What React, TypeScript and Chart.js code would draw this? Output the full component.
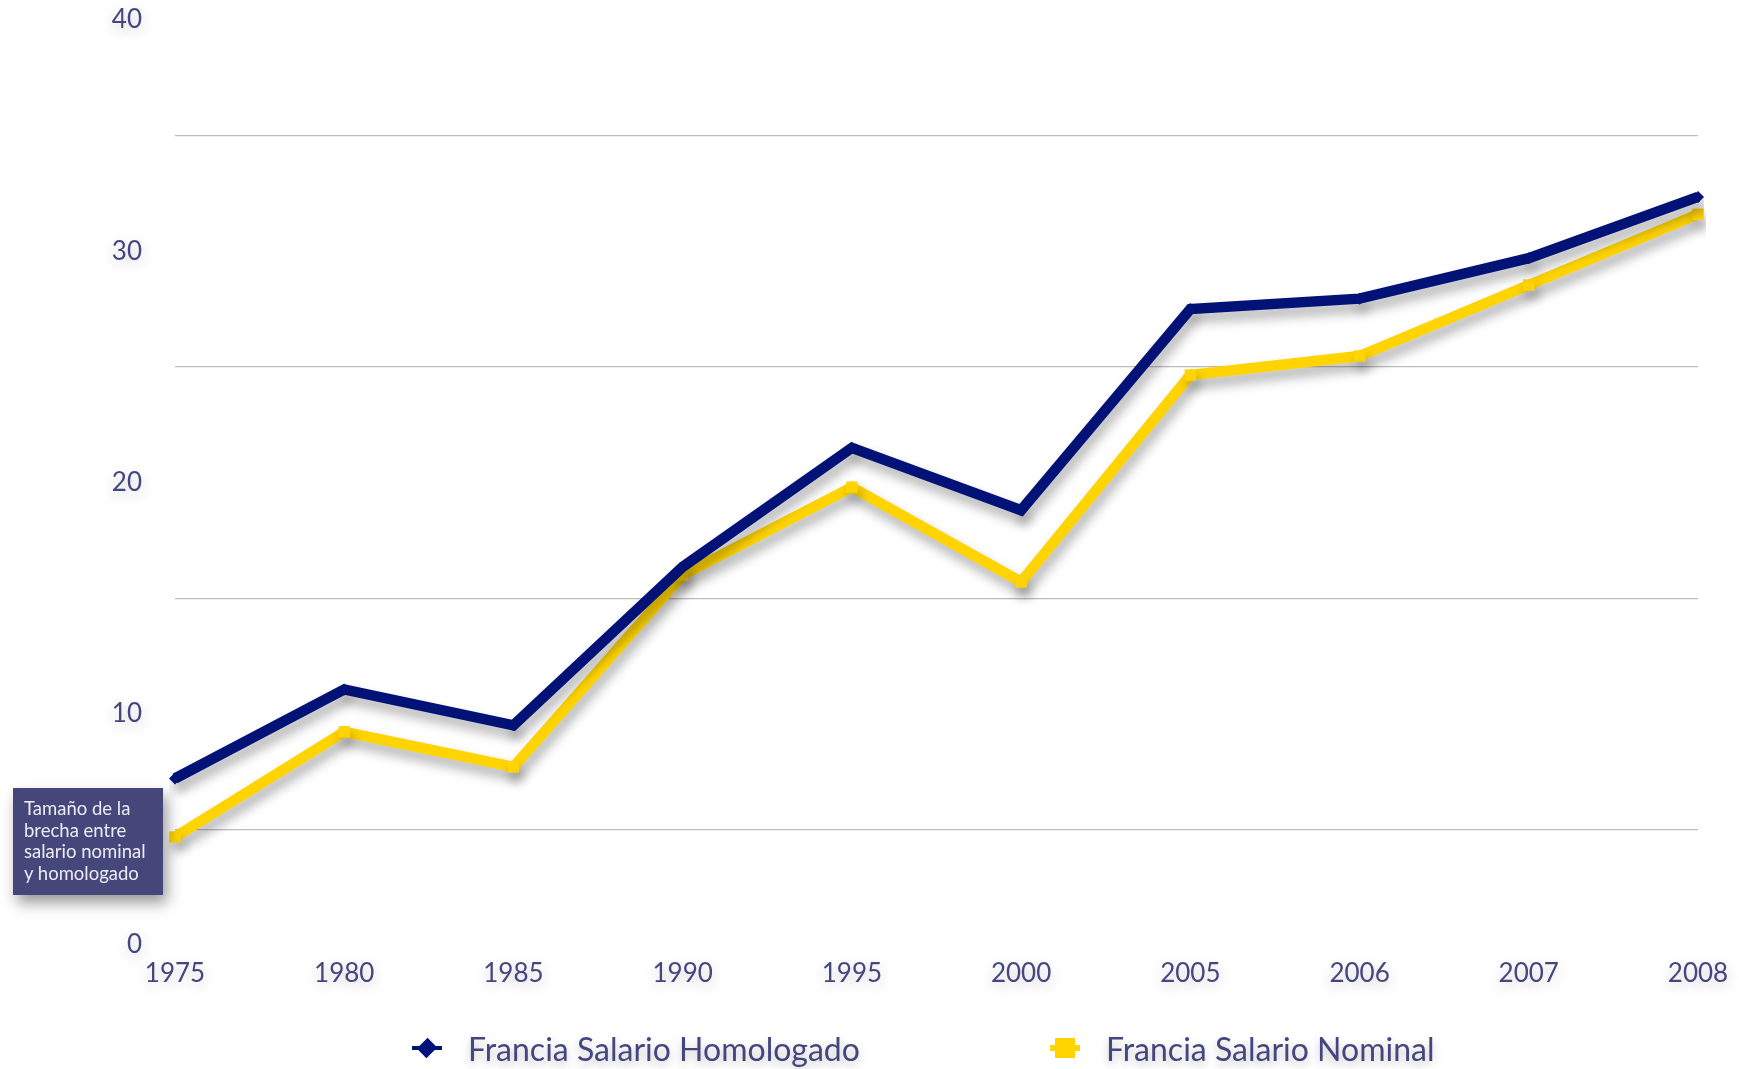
import React, { useEffect, useRef } from "react";
import { Chart, registerables } from "chart.js";

Chart.register(...registerables);

const years = ["1975", "1980", "1985", "1990", "1995", "2000", "2005", "2006", "2007", "2008"];
const homologado = [7.2, 11.05, 9.5, 16.35, 21.5, 18.8, 27.5, 27.95, 29.7, 32.35];
const nominal = [4.67, 9.22, 7.7, 16.0, 19.8, 15.7, 24.65, 25.47, 28.54, 31.6];
const seriesNames = ["Francia Salario Homologado", "Francia Salario Nominal"];
const annotationText = ["Tamaño de la", "brecha entre", "salario nominal", "y homologado"];

const BLUE = "#021277";
const YELLOW = "#FFD400";
const LABEL = "#43467f";
const FONT = "Lato, 'Open Sans', sans-serif";

const shadowPlugin = {
  id: "shadows",
  beforeDatasetsDraw(chart: any) {
    const ctx = chart.ctx;
    ctx.save();
    ctx.shadowColor = "rgba(0,0,0,0.32)";
    ctx.shadowBlur = 12;
    ctx.shadowOffsetX = 3;
    ctx.shadowOffsetY = 8;
  },
  afterDatasetsDraw(chart: any) {
    const ctx = chart.ctx;
    ctx.restore();
    ctx.save();
    ctx.shadowColor = "rgba(0,0,0,0.24)";
    ctx.shadowBlur = 14;
    ctx.shadowOffsetX = 0;
    ctx.shadowOffsetY = 4;
  },
  afterDraw(chart: any) {
    chart.ctx.restore();
  },
};

export default function App() {
  const ref = useRef<HTMLCanvasElement | null>(null);

  useEffect(() => {
    if (!ref.current) return;
    const chart = new Chart(ref.current, {
      type: "line",
      data: {
        labels: years,
        datasets: [
          {
            label: seriesNames[0],
            data: homologado,
            borderColor: BLUE,
            backgroundColor: BLUE,
            borderWidth: 10.5,
            pointStyle: "rectRot",
            pointRadius: 6,
            pointBorderWidth: 0,
            tension: 0,
          },
          {
            label: seriesNames[1],
            data: nominal,
            borderColor: YELLOW,
            backgroundColor: YELLOW,
            borderWidth: 10.5,
            pointStyle: "rect",
            pointRadius: 8,
            pointBorderWidth: 0,
            tension: 0,
          },
        ],
      },
      options: {
        animation: false,
        responsive: false,
        maintainAspectRatio: false,
        devicePixelRatio: 1,
        layout: { padding: { top: 20, right: 41, left: 0, bottom: 0 } },
        plugins: {
          legend: { display: false },
          tooltip: { enabled: false },
        },
        scales: {
          x: {
            type: "category",
            offset: false,
            grid: { display: false },
            border: { display: false },
            ticks: {
              color: LABEL,
              font: { family: FONT, size: 26 },
              padding: 5,
              maxRotation: 0,
              autoSkip: false,
              z: 1,
            },
            afterFit(scale: any) {
              scale.height = 124;
            },
          },
          y: {
            min: 0,
            max: 40,
            grid: {
              color: (c: any) => (c.tick && c.tick.value % 10 === 5 ? "#bdbdbd" : "rgba(0,0,0,0)"),
              lineWidth: 1.2,
              drawTicks: false,
            },
            border: { display: false },
            ticks: {
              stepSize: 5,
              color: LABEL,
              font: { family: FONT, size: 26 },
              padding: 33,
              callback: (v: any) => (Number(v) % 10 === 0 ? String(v) : ""),
              z: 1,
            },
            afterFit(scale: any) {
              scale.width = 175;
              scale.paddingTop = 0;
              scale.paddingBottom = 0;
            },
          },
        },
      },
      plugins: [shadowPlugin],
    } as any);
    return () => chart.destroy();
  }, []);

  const legendText: React.CSSProperties = {
    fontFamily: FONT,
    fontSize: 32,
    color: LABEL,
    textShadow: "0 4px 10px rgba(0,0,0,0.25)",
    whiteSpace: "nowrap",
  };

  return (
    <div style={{ position: "fixed", left: 0, top: 0, width: 1739, height: 1069, background: "#fff" }}>
      <canvas ref={ref} width={1739} height={1069} style={{ position: "absolute", left: 0, top: 0, width: 1739, height: 1069 }} />
      <div
        style={{
          position: "absolute",
          left: 13,
          top: 788,
          width: 150,
          height: 107,
          boxSizing: "border-box",
          background: "#45477b",
          boxShadow: "4px 8px 14px rgba(0,0,0,0.4)",
          padding: "10px 0 0 11px",
          fontFamily: FONT,
          fontSize: 18.5,
          lineHeight: "21.5px",
          color: "#ecebf3",
        }}
      >
        {annotationText.map((t, i) => (
          <div key={i} style={{ whiteSpace: "nowrap" }}>{t}</div>
        ))}
      </div>
      <div style={{ position: "absolute", left: 412, top: 1030, display: "flex", alignItems: "center", height: 36 }}>
        <div style={{ position: "relative", width: 30, height: 22 }}>
          <div style={{ position: "absolute", left: 0, top: 9, width: 30, height: 4, background: BLUE }} />
          <div style={{ position: "absolute", left: 7, top: 3, width: 16, height: 16, background: BLUE, transform: "rotate(45deg) scale(0.85, 0.95)" }} />
        </div>
        <span style={{ ...legendText, marginLeft: 26 }}>{seriesNames[0]}</span>
      </div>
      <div style={{ position: "absolute", left: 1050, top: 1030, display: "flex", alignItems: "center", height: 36 }}>
        <div style={{ position: "relative", width: 30, height: 22 }}>
          <div style={{ position: "absolute", left: 0, top: 8, width: 30, height: 6, background: YELLOW }} />
          <div style={{ position: "absolute", left: 5, top: 1, width: 20, height: 20, background: YELLOW }} />
        </div>
        <span style={{ ...legendText, marginLeft: 26 }}>{seriesNames[1]}</span>
      </div>
    </div>
  );
}
